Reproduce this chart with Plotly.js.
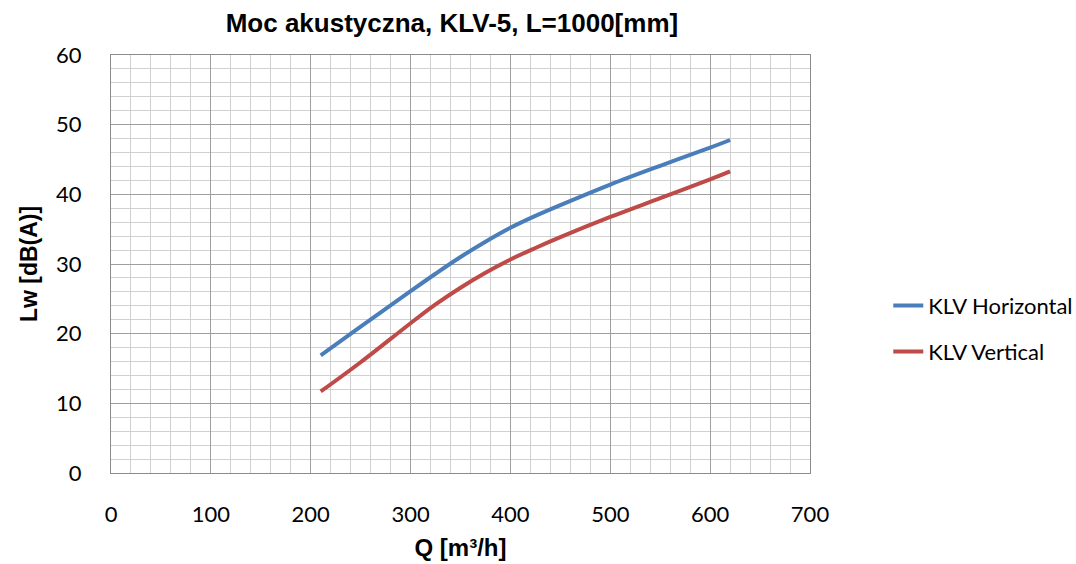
<!DOCTYPE html>
<html>
<head>
<meta charset="utf-8">
<script src="https://cdn.plot.ly/plotly-3.0.1.min.js"></script>
<style>html,body{margin:0;padding:0;background:#fff;}#chart{width:1076px;height:564px;}</style>
</head>
<body>
<div id="chart"></div>
<script>
const flowQ = [210, 250, 300, 325, 350, 375, 400, 425, 450, 500, 550, 600, 620];
const lwHorizontal = [16.9, 21.0, 26.1, 28.6, 31.0, 33.2, 35.2, 36.9, 38.45, 41.4, 44.1, 46.7, 47.8];
const lwVertical = [11.7, 15.9, 21.5, 24.2, 26.6, 28.75, 30.65, 32.3, 33.85, 36.75, 39.45, 42.15, 43.3];
const seriesNames = ['KLV Horizontal', 'KLV Vertical'];
const chartTitle = 'Moc akustyczna, KLV-5, L=1000[mm]';
const xTitle = 'Q [m³/h]';
const yTitle = 'Lw [dB(A)]';

const tickFont = {family: 'Lato, "Open Sans", sans-serif', size: 22, color: '#000'};
const boldFamily = '"Liberation Sans", Arial, sans-serif';

const traces = [
  {x: flowQ, y: lwHorizontal, name: seriesNames[0], mode: 'lines', legend: 'legend',
   line: {color: '#4A7EBB', width: 4, shape: 'spline', smoothing: 1}},
  {x: flowQ, y: lwVertical, name: seriesNames[1], mode: 'lines', legend: 'legend2',
   line: {color: '#BE4B48', width: 4, shape: 'spline', smoothing: 1}}
];

const legendFont = {family: 'Lato, "Open Sans", sans-serif', size: 22, color: '#000'};
const layout = {
  width: 1076, height: 564,
  margin: {l: 111, r: 266, t: 55, b: 91, autoexpand: false},
  paper_bgcolor: '#fff', plot_bgcolor: '#fff',
  title: {text: '<b>' + chartTitle + '</b>', font: {family: boldFamily, size: 26, color: '#000'},
          x: 0.42, xanchor: 'center', y: 0.96, yanchor: 'middle'},
  xaxis: {
    range: [0, 700], dtick: 100, tick0: 0, ticks: '', showgrid: true, gridcolor: '#9f9f9f', gridwidth: 1,
    minor: {dtick: 20, showgrid: true, gridcolor: '#d0d0d0', gridwidth: 1},
    showline: true, linecolor: '#8c8c8c', linewidth: 1, mirror: true, zeroline: false,
    tickfont: tickFont, ticklabelstandoff: 22,
    title: {text: '<b>' + xTitle + '</b>', font: {family: boldFamily, size: 24, color: '#000'}, standoff: 12}
  },
  yaxis: {
    range: [0, 60], dtick: 10, tick0: 0, ticks: '', showgrid: true, gridcolor: '#9f9f9f', gridwidth: 1,
    minor: {dtick: 2, showgrid: true, gridcolor: '#d0d0d0', gridwidth: 1},
    showline: true, linecolor: '#8c8c8c', linewidth: 1, mirror: true, zeroline: false,
    tickfont: tickFont, ticklabelstandoff: 24,
    title: {text: '<b>' + yTitle + '</b>', font: {family: boldFamily, size: 23, color: '#000'}, standoff: 12}
  },
  showlegend: true,
  legend: {x: 1.112, y: 0.40, xanchor: 'left', yanchor: 'middle', font: legendFont, bgcolor: 'rgba(0,0,0,0)'},
  legend2: {x: 1.112, y: 0.29, xanchor: 'left', yanchor: 'middle', font: legendFont, bgcolor: 'rgba(0,0,0,0)'}
};

Plotly.newPlot('chart', traces, layout, {displayModeBar: false, staticPlot: true});
</script>
</body>
</html>
